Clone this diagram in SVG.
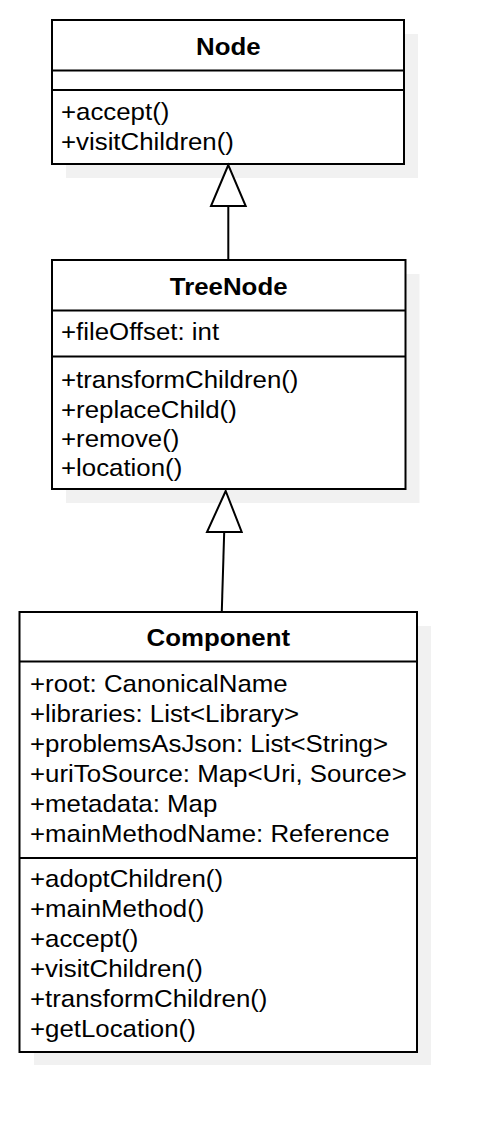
<svg xmlns="http://www.w3.org/2000/svg" width="496" height="1132" viewBox="0 0 496 1132">
<style>
.shadow{fill:#f1f1f1;stroke:none}
.box{fill:#ffffff;stroke:#000000;stroke-width:2}
.div{stroke:#000000;stroke-width:2;fill:none}
.t{font-family:"Liberation Sans",Arial,sans-serif;font-size:23.8px;fill:#000000}
.title{font-weight:bold;text-anchor:middle}
.edge{stroke:#000000;stroke-width:2;fill:none}
.head{stroke:#000000;stroke-width:2;fill:#ffffff;stroke-linejoin:miter}
</style>
<rect width="496" height="1132" fill="#ffffff"/>
<g id="shadows">
<rect class="shadow" x="66" y="34" width="352" height="144"/>
<rect class="shadow" x="66" y="274" width="353.5" height="229"/>
<rect class="shadow" x="34" y="626" width="397" height="439"/>
</g>
<g id="node-Node">
<rect class="box" x="52" y="20" width="352" height="144"/>
<line class="div" x1="52" y1="70.5" x2="404" y2="70.5"/>
<line class="div" x1="52" y1="90" x2="404" y2="90"/>
<text class="t title" transform="matrix(1.085 0 0 1 228.3 54.8)">Node</text>
<text class="t" transform="matrix(1.085 0 0 1 61 120)">+accept()</text>
<text class="t" transform="matrix(1.085 0 0 1 61 150)">+visitChildren()</text>
</g>
<g id="node-TreeNode">
<rect class="box" x="52" y="260" width="353.5" height="229"/>
<line class="div" x1="52" y1="310.5" x2="405.5" y2="310.5"/>
<line class="div" x1="52" y1="356.5" x2="405.5" y2="356.5"/>
<text class="t title" transform="matrix(1.085 0 0 1 228.7 294.5)">TreeNode</text>
<text class="t" transform="matrix(1.085 0 0 1 61 340)">+fileOffset: int</text>
<text class="t" transform="matrix(1.085 0 0 1 61 388)">+transformChildren()</text>
<text class="t" transform="matrix(1.085 0 0 1 61 417.5)">+replaceChild()</text>
<text class="t" transform="matrix(1.085 0 0 1 61 446.5)">+remove()</text>
<text class="t" transform="matrix(1.085 0 0 1 61 475.5)">+location()</text>
</g>
<g id="node-Component">
<rect class="box" x="19.5" y="612" width="397.5" height="440"/>
<line class="div" x1="19.5" y1="661.5" x2="417" y2="661.5"/>
<line class="div" x1="19.5" y1="858" x2="417" y2="858"/>
<text class="t title" transform="matrix(1.085 0 0 1 218.3 646)">Component</text>
<text class="t" transform="matrix(1.085 0 0 1 30 691.7)">+root: CanonicalName</text>
<text class="t" transform="matrix(1.085 0 0 1 30 721.7)">+libraries: List&lt;Library&gt;</text>
<text class="t" transform="matrix(1.085 0 0 1 30 751.7)">+problemsAsJson: List&lt;String&gt;</text>
<text class="t" transform="matrix(1.085 0 0 1 30 781.7)">+uriToSource: Map&lt;Uri, Source&gt;</text>
<text class="t" transform="matrix(1.085 0 0 1 30 811.7)">+metadata: Map</text>
<text class="t" transform="matrix(1.085 0 0 1 30 841.7)">+mainMethodName: Reference</text>
<text class="t" transform="matrix(1.085 0 0 1 30 886.7)">+adoptChildren()</text>
<text class="t" transform="matrix(1.085 0 0 1 30 916.7)">+mainMethod()</text>
<text class="t" transform="matrix(1.085 0 0 1 30 946.7)">+accept()</text>
<text class="t" transform="matrix(1.085 0 0 1 30 976.7)">+visitChildren()</text>
<text class="t" transform="matrix(1.085 0 0 1 30 1006.7)">+transformChildren()</text>
<text class="t" transform="matrix(1.085 0 0 1 30 1036.7)">+getLocation()</text>
</g>
<g id="connectors">
<line class="edge" x1="228.3" y1="206" x2="228.3" y2="260"/>
<polygon class="head" points="228.3,165 211,206 245.7,206"/>
<line class="edge" x1="224.2" y1="532" x2="221.8" y2="611"/>
<polygon class="head" points="225.7,491 207,532 241.7,532"/>
</g>
</svg>
